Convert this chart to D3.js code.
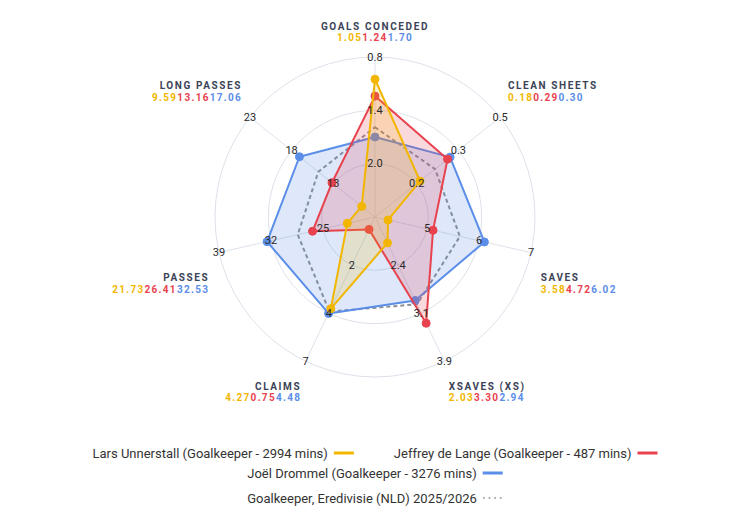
<!DOCTYPE html>
<html>
<head>
<meta charset="utf-8">
<script src="https://cdn.jsdelivr.net/npm/d3@7"></script>
<style>
  html, body { margin: 0; padding: 0; background: #fff; }
  svg { display: block; font-family: Roboto, "Noto Sans", sans-serif; }
</style>
</head>
<body>
<div id="chart"></div>
<script>
// Axes of the radar, clockwise from the top
const axes = ["GOALS CONCEDED", "CLEAN SHEETS", "SAVES", "XSAVES (XS)", "CLAIMS", "PASSES", "LONG PASSES"];
// value at the centre and at the outer ring of each axis (goals conceded runs reversed)
const axisMin = [2.6, 0, 3.25, 1.62, 0.2, 18, 8];
const axisMax = [0.8, 0.5, 7.2, 3.9, 6.6, 39, 23];
const tickLabels = [
    ["2.0", "1.4", "0.8"],
    ["0.2", "0.3", "0.5"],
    ["5", "6", "7"],
    ["2.4", "3.1", "3.9"],
    ["2", "4", "7"],
    ["25", "32", "39"],
    ["13", "18", "23"]
];

const unnerstall = [1.05, 0.18, 3.58, 2.03, 4.27, 21.73, 9.59];
const deLange = [1.24, 0.29, 4.72, 3.30, 0.75, 26.41, 13.16];
const drommel = [1.70, 0.30, 6.02, 2.94, 4.48, 32.53, 17.06];
const average = [1.59, 0.24, 5.4, 3.0, 4.4, 28.4, 14.8];

const seriesNames = [
    "Lars Unnerstall (Goalkeeper - 2994 mins)",
    "Jeffrey de Lange (Goalkeeper - 487 mins)",
    "Joël Drommel (Goalkeeper - 3276 mins)"
];
const averageName = "Goalkeeper, Eredivisie (NLD) 2025/2026";

let style = {
    colors: ["#f2b600", "#e8424e", "#5b8ee8"],
    fills: ["rgba(242,182,0,0.18)", "rgba(232,66,78,0.2)", "rgba(91,142,232,0.2)"],
    grid: "#dde2ea",
    average: "#8d8f94",
    averageSwatch: "#a4a6ab",
    nameColor: "#3b4457",
    tickColor: "#2a2a2a"
}

const width = 750, height = 529;
const cx = 375, cy = 217, radius = 160;
const nRings = 3;
const seriesData = [unnerstall, deLange, drommel];

const svg = d3.select("#chart").append("svg").attr("width", width).attr("height", height);

const angle = i => i * 2 * Math.PI / axes.length;
const rScale = axes.map((_, i) => d3.scaleLinear().domain([axisMin[i], axisMax[i]]).range([0, radius]));

function point(i, v) {
    const r = rScale[i](v);
    return [cx + r * Math.sin(angle(i)), cy - r * Math.cos(angle(i))];
}

// Grid rings and spokes
const grid = svg.append("g");
const ringScale = d3.scaleLinear().domain([0, nRings]).range([0, radius]);
grid.selectAll("circle").data(d3.range(1, nRings + 1)).enter().append("circle")
    .attr("cx", cx).attr("cy", cy).attr("r", d => ringScale(d))
    .attr("fill", "none").attr("stroke", style.grid).attr("stroke-width", 1);
grid.selectAll("line").data(axes).enter().append("line")
    .attr("x1", cx).attr("y1", cy)
    .attr("x2", (d, i) => cx + radius * Math.sin(angle(i)))
    .attr("y2", (d, i) => cy - radius * Math.cos(angle(i)))
    .attr("stroke", style.grid).attr("stroke-width", 1);

const line = d3.line().curve(d3.curveLinearClosed);

// League average, dashed
svg.append("path")
    .attr("d", line(average.map((v, i) => point(i, v))))
    .attr("fill", "none").attr("stroke", style.average)
    .attr("stroke-width", 2).attr("stroke-dasharray", "4,3");

// Player polygons (Drommel at the back)
[2, 1, 0].forEach(s => {
    const pts = seriesData[s].map((v, i) => point(i, v));
    const g = svg.append("g");
    g.append("path").attr("d", line(pts))
        .attr("fill", style.fills[s]).attr("stroke", style.colors[s]).attr("stroke-width", 2)
        .attr("stroke-linejoin", "round");
    g.selectAll("circle").data(pts).enter().append("circle")
        .attr("cx", d => d[0]).attr("cy", d => d[1]).attr("r", 4)
        .attr("fill", style.colors[s]).attr("stroke", style.colors[s]).attr("stroke-width", 1);
});

// Tick labels along each spoke
const ticks = svg.append("g").attr("font-size", 11).attr("fill", style.tickColor);
axes.forEach((a, i) => {
    tickLabels[i].forEach((t, k) => {
        const r = ringScale(k + 1);
        ticks.append("text")
            .attr("x", cx + r * Math.sin(angle(i)))
            .attr("y", cy - r * Math.cos(angle(i)))
            .attr("text-anchor", "middle").attr("dominant-baseline", "central")
            .text(t);
    });
});

// Axis names with the three player values
const labels = svg.append("g");
axes.forEach((a, i) => {
    const s = Math.sin(angle(i)), c = Math.cos(angle(i));
    const anchor = Math.abs(s) < 0.01 ? "middle" : (s > 0 ? "start" : "end");
    const x = cx + 170 * s;
    const push = Math.max(0, Math.abs(s) - 0.5) * 42 * (c > 0 ? -1 : 1);
    const yName = cy - 189.4 * c - 1.6 + push;
    labels.append("text")
        .attr("x", x).attr("y", yName + 3.6)
        .attr("text-anchor", anchor)
        .attr("font-size", 10).attr("font-weight", "bold")
        .attr("letter-spacing", "1.6px").attr("fill", style.nameColor)
        .text(a);
    const vt = labels.append("text")
        .attr("x", x).attr("y", yName + 15.1)
        .attr("text-anchor", anchor)
        .attr("font-size", 10).attr("font-weight", "bold")
        .attr("letter-spacing", "1.3px");
    seriesData.forEach((d, s2) => {
        vt.append("tspan").attr("fill", style.colors[s2]).text(d[i].toFixed(2));
    });
});

// Legend, wrapped into centred rows
const legend = svg.append("g").attr("font-size", 13).attr("fill", "#333");
const swatchW = 20, swatchGap = 6, itemGap = 40, maxRow = 620;

function legendItem(name, color, dotted) {
    const g = legend.append("g");
    const t = g.append("text").attr("x", 0).attr("y", 0).text(name);
    const w = t.node().getComputedTextLength();
    const sw = g.append("line")
        .attr("x1", w + swatchGap + (dotted ? 1 : 0)).attr("x2", w + swatchGap + swatchW)
        .attr("y1", -4.5).attr("y2", -4.5)
        .attr("stroke", color);
    if (dotted) {
        sw.attr("stroke-width", 2).attr("stroke-dasharray", "0.1,5.5").attr("stroke-linecap", "round");
    } else {
        sw.attr("stroke-width", 3);
    }
    return { g, w: w + swatchGap + swatchW };
}

const items = seriesNames.map((n, s) => legendItem(n, style.colors[s], false));
let rows = [[]], rowW = [0];
items.forEach(it => {
    let r = rows.length - 1;
    const add = rows[r].length ? itemGap + it.w : it.w;
    if (rowW[r] + add > maxRow) {
        rows.push([it]); rowW.push(it.w);
    } else {
        rows[r].push(it); rowW[r] += add;
    }
});
const rowY = d3.scaleLinear().domain([0, 1]).range([457.5, 477.5]);
rows.forEach((row, r) => {
    let x = (width - rowW[r]) / 2;
    row.forEach(it => {
        it.g.attr("transform", `translate(${x},${rowY(r)})`);
        x += it.w + itemGap;
    });
});
const avgItem = legendItem(averageName, style.averageSwatch, true);
avgItem.g.attr("transform", `translate(${(width - avgItem.w) / 2},${rowY(rows.length - 1) + 25})`);
</script>
</body>
</html>
